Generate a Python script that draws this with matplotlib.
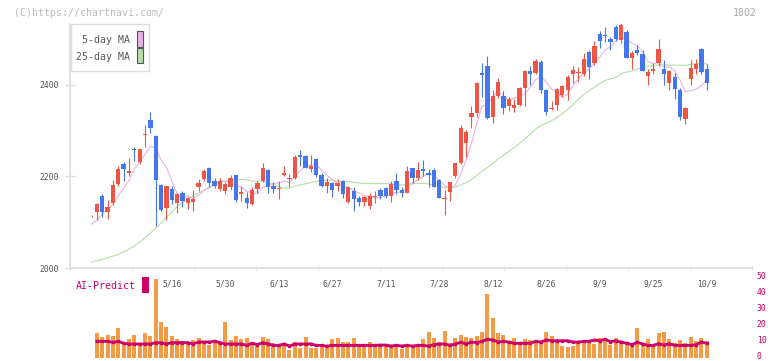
import numpy as np
import matplotlib.pyplot as plt
from matplotlib.patches import Rectangle
from matplotlib.transforms import ScaledTranslation

# figure size in pixels, helpers to place decorations in figure fractions
W, H = 772, 361


def fx(px):
    return px / W


def fy(py):
    return 1 - py / H


# daily candles (2025/4/22 .. 10/9)
opens = [2113, 2122, 2157, 2122, 2142, 2184, 2227, 2208, 2261, 2232,
         2290, 2323, 2288, 2181, 2132, 2172, 2141, 2164, 2141, 2144,
         2177, 2194, 2219, 2190, 2173, 2169, 2178, 2203, 2162, 2154,
         2140, 2172, 2191, 2214, 2179, 2172, 2204, 2195, 2196, 2248,
         2245, 2216, 2238, 2203, 2180, 2185, 2180, 2191, 2145, 2169,
         2152, 2145, 2136, 2155, 2170, 2174, 2158, 2190, 2170, 2165,
         2218, 2197, 2216, 2208, 2214, 2192, 2150, 2167, 2200, 2229,
         2274, 2329, 2338, 2426, 2442, 2331, 2375, 2376, 2353, 2350,
         2356, 2394, 2431, 2427, 2450, 2389, 2348, 2356, 2378, 2389,
         2423, 2426, 2423, 2472, 2447, 2512, 2510, 2501, 2527, 2499,
         2516, 2459, 2477, 2468, 2420, 2431, 2447, 2435, 2404, 2417,
         2388, 2326, 2413, 2436, 2479, 2434]
highs = [2115, 2141, 2162, 2148, 2192, 2222, 2232, 2240, 2265, 2261,
         2313, 2342, 2290, 2183, 2180, 2179, 2164, 2168, 2156, 2170,
         2194, 2216, 2220, 2196, 2196, 2187, 2203, 2205, 2180, 2167,
         2178, 2190, 2229, 2216, 2187, 2190, 2223, 2205, 2247, 2258,
         2247, 2247, 2240, 2207, 2196, 2188, 2194, 2192, 2178, 2178,
         2157, 2157, 2163, 2169, 2174, 2178, 2190, 2207, 2176, 2222,
         2219, 2231, 2236, 2216, 2218, 2194, 2170, 2189, 2230, 2313,
         2302, 2353, 2407, 2449, 2463, 2389, 2415, 2387, 2374, 2369,
         2396, 2432, 2442, 2457, 2455, 2391, 2364, 2394, 2399, 2422,
         2442, 2440, 2469, 2476, 2497, 2517, 2526, 2504, 2532, 2536,
         2521, 2475, 2488, 2477, 2434, 2448, 2501, 2454, 2433, 2426,
         2394, 2351, 2454, 2457, 2480, 2445]
lows = [2112, 2105, 2112, 2108, 2138, 2179, 2191, 2202, 2234, 2227,
        2265, 2294, 2092, 2124, 2105, 2140, 2121, 2134, 2130, 2125,
        2168, 2190, 2176, 2175, 2168, 2162, 2170, 2145, 2147, 2132,
        2138, 2165, 2189, 2165, 2165, 2151, 2200, 2178, 2194, 2224,
        2218, 2210, 2198, 2178, 2163, 2156, 2168, 2154, 2143, 2125,
        2136, 2135, 2130, 2141, 2150, 2154, 2145, 2161, 2156, 2164,
        2185, 2192, 2201, 2178, 2176, 2152, 2116, 2146, 2196, 2227,
        2243, 2305, 2329, 2374, 2325, 2318, 2371, 2337, 2343, 2340,
        2355, 2355, 2399, 2425, 2383, 2334, 2345, 2345, 2374, 2367,
        2405, 2407, 2420, 2412, 2444, 2481, 2494, 2476, 2496, 2492,
        2458, 2436, 2466, 2430, 2399, 2423, 2441, 2399, 2390, 2370,
        2324, 2315, 2399, 2423, 2424, 2390]
closes = [2114, 2140, 2123, 2133, 2181, 2216, 2216, 2211, 2259, 2260,
          2293, 2307, 2193, 2127, 2179, 2149, 2161, 2146, 2152, 2150,
          2186, 2212, 2185, 2179, 2190, 2183, 2197, 2149, 2166, 2143,
          2170, 2185, 2218, 2178, 2173, 2175, 2207, 2197, 2243, 2243,
          2219, 2224, 2203, 2180, 2189, 2171, 2185, 2162, 2176, 2151,
          2145, 2155, 2157, 2157, 2157, 2157, 2184, 2170, 2165, 2212,
          2197, 2214, 2212, 2204, 2178, 2154, 2153, 2188, 2229, 2307,
          2297, 2338, 2405, 2421, 2327, 2376, 2407, 2350, 2369, 2356,
          2394, 2431, 2425, 2452, 2388, 2340, 2350, 2391, 2398, 2418,
          2433, 2429, 2457, 2439, 2485, 2497, 2506, 2493, 2501, 2532,
          2459, 2471, 2469, 2431, 2428, 2435, 2479, 2423, 2431, 2391,
          2330, 2350, 2437, 2446, 2428, 2404]

# moving averages as drawn on the chart
ma5 = [2096, 2104, 2118, 2128, 2138.2, 2158.6, 2173.8, 2191.4, 2216.6, 2232.4,
       2247.8, 2266.0, 2262.4, 2236.0, 2219.8, 2191.0, 2161.8, 2152.4, 2157.4, 2151.6,
       2159.0, 2169.2, 2177.0, 2182.4, 2190.4, 2189.8, 2186.8, 2179.6, 2177.0, 2167.6,
       2165.0, 2162.6, 2176.4, 2178.8, 2184.8, 2185.8, 2190.2, 2186.0, 2199.0, 2213.0,
       2221.8, 2225.2, 2226.4, 2213.8, 2203.0, 2193.4, 2185.6, 2177.4, 2176.6, 2169.0,
       2163.8, 2157.8, 2156.8, 2153.0, 2154.2, 2156.6, 2162.4, 2165.0, 2166.6, 2177.6,
       2185.6, 2191.6, 2200.0, 2207.8, 2201.0, 2192.4, 2180.2, 2175.4, 2180.4, 2206.2,
       2234.8, 2271.8, 2315.2, 2353.6, 2357.6, 2373.4, 2387.2, 2376.2, 2365.8, 2371.6,
       2375.2, 2380.0, 2395.0, 2411.6, 2418.0, 2407.2, 2391.0, 2384.2, 2373.4, 2379.4,
       2398.0, 2413.8, 2427.0, 2435.2, 2448.6, 2461.4, 2476.8, 2484.0, 2496.4, 2505.8,
       2498.2, 2491.2, 2486.4, 2472.4, 2451.6, 2446.8, 2448.4, 2439.2, 2439.2, 2431.8,
       2410.8, 2385.0, 2387.8, 2390.8, 2398.2, 2413.0]
ma25 = [2013, 2016, 2019, 2022, 2026, 2030, 2035, 2041, 2048, 2057,
        2066, 2076, 2087, 2099, 2111, 2123, 2134, 2143, 2151, 2158,
        2164, 2170, 2175, 2181, 2186.5, 2189.2, 2191.5, 2192.6, 2193.9, 2192.4,
        2190.5, 2189.3, 2189.6, 2186.3, 2182.8, 2178.1, 2174.1, 2174.3, 2178.9, 2181.5,
        2184.3, 2186.8, 2189.1, 2190.2, 2191.8, 2191.2, 2190.1, 2189.2, 2189.0, 2187.5,
        2186.0, 2184.3, 2184.6, 2184.2, 2184.8, 2184.3, 2184.2, 2182.3, 2181.8, 2183.4,
        2184.2, 2184.5, 2185.1, 2183.6, 2181.0, 2178.4, 2175.5, 2174.9, 2176.9, 2181.6,
        2186.6, 2192.8, 2202.5, 2212.3, 2219.3, 2228.6, 2238.6, 2246.4, 2254.8, 2262.8,
        2272.3, 2282.2, 2292.4, 2303.8, 2310.9, 2316.6, 2322.0, 2329.2, 2337.0, 2346.6,
        2357.7, 2368.8, 2379.5, 2387.9, 2395.0, 2403.0, 2409.8, 2413.3, 2416.5, 2424.7,
        2428.0, 2430.6, 2435.3, 2437.8, 2440.7, 2442.3, 2444.2, 2444.2, 2443.3, 2443.4,
        2443.0, 2443.0, 2444.9, 2446.8, 2447.2, 2446.0]

# lower panel, from the 2nd candle on
volume = [15.6, 13.1, 14.2, 13.6, 18.6, 9.0, 11.7, 14.2, 8.0, 15.6,
          13.6, 49.0, 22.5, 19.4, 13.6, 11.7, 10.6, 9.0, 11.1, 12.3,
          10.0, 8.0, 11.1, 9.0, 22.5, 11.1, 13.6, 11.7, 12.3, 8.0,
          9.0, 12.9, 11.7, 9.0, 7.3, 9.0, 4.8, 10.0, 6.3, 12.9,
          6.3, 5.9, 7.3, 7.3, 11.7, 12.1, 10.0, 10.0, 12.3, 7.3,
          8.0, 10.0, 8.0, 7.9, 7.9, 7.3, 7.3, 5.2, 7.3, 6.5,
          6.5, 11.7, 16.3, 12.5, 10.0, 16.9, 9.0, 12.5, 14.2, 12.7,
          12.5, 13.6, 16.3, 39.8, 25.0, 15.6, 14.2, 10.0, 12.5, 10.0,
          11.7, 11.1, 10.4, 10.0, 16.3, 13.6, 10.6, 7.3, 6.5, 7.3,
          10.0, 9.0, 9.4, 8.6, 12.5, 11.1, 7.9, 12.1, 10.4, 9.0,
          7.3, 18.3, 9.0, 11.7, 8.4, 15.2, 16.3, 11.7, 9.0, 11.1,
          9.0, 13.2, 10.4, 12.5, 10.4]
ai_predict = [10.2, 10.2, 10.2, 9.6, 10.2, 9.0, 8.6, 8.6, 8.6, 8.6,
              8.6, 9.4, 9.4, 8.6, 9.4, 9.4, 9.4, 9.4, 8.6, 9.8,
              9.8, 9.8, 10.3, 9.4, 8.6, 8.6, 8.6, 8.6, 7.7, 9.0,
              8.2, 9.4, 8.6, 7.7, 7.7, 8.6, 7.3, 8.6, 8.6, 8.6,
              8.6, 7.7, 7.7, 7.2, 7.7, 7.7, 7.7, 7.7, 7.7, 7.7,
              7.7, 7.7, 7.7, 7.9, 7.9, 7.3, 7.7, 7.3, 7.7, 7.3,
              7.7, 7.7, 7.3, 8.2, 8.6, 8.6, 7.7, 8.6, 9.6, 8.6,
              9.8, 9.4, 10.2, 11.5, 11.1, 9.8, 10.2, 9.8, 9.0, 9.0,
              9.0, 9.0, 10.2, 9.8, 11.1, 10.6, 10.6, 10.6, 10.6, 9.8,
              9.8, 10.2, 10.2, 11.1, 10.6, 11.5, 10.0, 10.6, 9.8, 9.0,
              8.2, 9.6, 8.6, 7.7, 7.7, 8.8, 7.9, 8.8, 7.7, 7.7,
              7.7, 7.7, 8.1, 9.8, 9.0]

date_labels = ["5/16", "5/30", "6/13", "6/27", "7/11", "7/28",
               "8/12", "8/26", "9/9", "9/25", "10/9"]
date_pos = [15, 25, 35, 45, 55, 65, 75, 85, 95, 105, 115]
price_ticks = [2000, 2200, 2400]
sub_ticks = [0, 10, 20, 30, 40, 50]

RED = "#ee5544"
BLUE = "#4477ee"
PINK = "#e8b2e8"
GREEN = "#b6dca6"
ORANGE = "#f39c45"
MAGENTA = "#cc0066"
GRID = "#dddddd"
TXT = "#555555"
MONO = "DejaVu Sans Mono"

o = np.array(opens, dtype=float)
c = np.array(closes, dtype=float)
x = np.arange(len(closes))
XMIN, XMAX = -4.02, 123.45

fig = plt.figure(figsize=(W / 100, H / 100), dpi=100)

# ---- price panel
ax = fig.add_axes([fx(70), fy(268), fx(752) - fx(70), fy(24) - fy(268)])
ax.set_xlim(XMIN, XMAX)
ax.set_ylim(2000, 2533.3)

ax.plot(x, ma25, color=GREEN, lw=0.8, zorder=1)
ax.plot(x, ma5, color=PINK, lw=0.8, zorder=1)

cols = np.where(c >= o, RED, BLUE)
ax.vlines(x, lows, highs, colors=cols, lw=0.8, zorder=2)
ax.bar(x, np.maximum(np.abs(c - o), 1.6), bottom=np.minimum(o, c), width=0.8,
       color=cols, linewidth=0, zorder=3)

for s in ["top", "right"]:
    ax.spines[s].set_visible(False)
for s in ["left", "bottom"]:
    ax.spines[s].set_color(GRID)
    ax.spines[s].set_linewidth(1.2)

ax.set_yticks(price_ticks)
ax.set_yticklabels([str(v) for v in price_ticks], family=MONO, fontsize=5.8, color=TXT)
ax.tick_params(axis="y", direction="inout", length=6.5, width=1, color=GRID, pad=4.5)

ax.set_xticks(np.linspace(XMIN, XMAX, 12))
ax.set_xticklabels([])
ax.tick_params(axis="x", which="major", direction="inout", length=3.2, width=1, color=GRID)
ax.set_xticks(date_pos, minor=True)
ax.set_xticklabels(date_labels, minor=True, family=MONO, fontsize=5.8, color=TXT)
ax.tick_params(axis="x", which="minor", length=0, pad=8.5)

# ---- AI-Predict panel
ax2 = fig.add_axes([fx(70), fy(357.7), fx(752) - fx(70), fy(277.7) - fy(357.7)])
ax2.set_xlim(XMIN, XMAX)
ax2.set_ylim(0, 50)
ax2.patch.set_alpha(0)
ax2.bar(x[1:], volume, width=0.75, color=ORANGE, linewidth=0)
ax2.plot(x[1:], ai_predict, color=MAGENTA, lw=2.0, marker="s", ms=2.0,
         solid_joinstyle="miter")
for s in ax2.spines.values():
    s.set_visible(False)
ax2.set_xticks([])
ax2.yaxis.tick_right()
ax2.set_yticks(sub_ticks)
ax2.set_yticklabels([str(v) for v in sub_ticks], family=MONO, fontsize=5.8, color=MAGENTA)
ax2.tick_params(axis="y", length=0, pad=3.5)
# nudge the right labels up a little so the "0" stays inside the picture
lift = ScaledTranslation(0, 2.0 / 100, fig.dpi_scale_trans)
for lab in ax2.get_yticklabels():
    lab.set_transform(lab.get_transform() + lift)

fig.text(fx(76), fy(286), "AI-Predict", family=MONO, fontsize=7.1, color=MAGENTA,
         ha="left", va="center")
fig.add_artist(Rectangle((fx(142), fy(292.7)), fx(149) - fx(142), fy(277.3) - fy(292.7),
                         transform=fig.transFigure, facecolor=MAGENTA, edgecolor="none"))

# ---- legend box
fig.add_artist(Rectangle((fx(70.7), fy(71)), fx(148.7) - fx(70.7), fy(24.3) - fy(71),
                         transform=fig.transFigure, facecolor="white",
                         edgecolor=GRID, lw=1))
fig.text(fx(130), fy(40), "5-day MA", family=MONO, fontsize=7.1, color=TXT,
         ha="right", va="center")
fig.text(fx(130), fy(57), "25-day MA", family=MONO, fontsize=7.1, color=TXT,
         ha="right", va="center")
fig.add_artist(Rectangle((fx(136.7), fy(46.7)), fx(6), fy(31) - fy(46.7),
                         transform=fig.transFigure, facecolor=PINK, edgecolor="#555555", lw=0.8))
fig.add_artist(Rectangle((fx(136.7), fy(63.3)), fx(6), fy(48.3) - fy(63.3),
                         transform=fig.transFigure, facecolor=GREEN, edgecolor="#555555", lw=0.8))

fig.text(fx(14), fy(12.5), "(C)https://chartnavi.com/", family=MONO, fontsize=7.1,
         color="#bbbbbb", ha="left", va="center")
fig.text(fx(757), fy(12.5), "1802", family=MONO, fontsize=7.1, color="#aaaaaa",
         ha="right", va="center")

fig.savefig("out.png", dpi=100)
